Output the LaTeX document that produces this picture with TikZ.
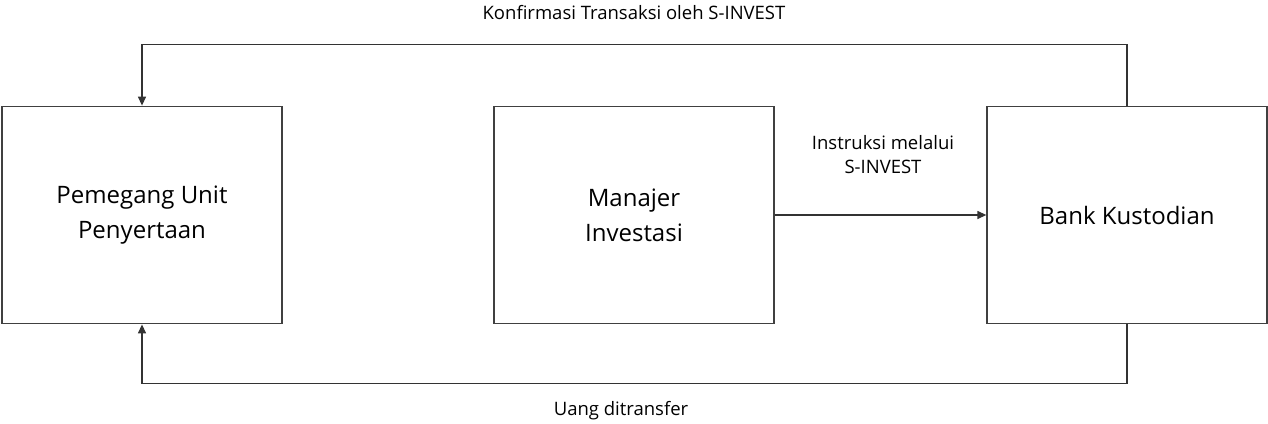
\documentclass[tikz,border=0pt]{standalone}
\usepackage{fontspec}
\setmainfont{Open Sans}
\usetikzlibrary{arrows.meta}

\tikzset{
    blok/.style={draw=black!75, line width=1.3pt, minimum width=280pt, minimum height=217.5pt,
        align=center, font=\fontsize{24}{35}\selectfont, inner sep=0pt},
    panah/.style={draw=black!80, line width=1.3pt, -{Triangle[length=9pt,width=8pt]}},
    ket/.style={align=center, font=\fontsize{18.5}{24}\selectfont, inner sep=0pt},
}

\begin{document}
\begin{tikzpicture}[x=1pt,y=-1pt]
    \useasboundingbox (0,0) rectangle (1268,423);
    % kotak utama
    \node[blok] (pemegang) at (142,215) {Pemegang Unit\\Penyertaan};
    \node[blok] (manajer) at (634,215) {Manajer\\Investasi};
    \node[blok] (bank) at (1127,215) {Bank Kustodian};
    % alur
    \draw[panah] (manajer.east) -- (bank.west);
    \draw[panah] (bank.north) -- ++(0,-61) -| (pemegang.north);
    \draw[panah] (bank.south) -- ++(0,59) -| (pemegang.south);
    % keterangan
    \node[ket] (konfirmasi) at (634,13) {Konfirmasi Transaksi oleh S-INVEST};
    \node[ket] (instruksi) at (883,155) {Instruksi melalui\\S-INVEST};
    \node[ket] (uang) at (621,411) {Uang ditransfer};
\end{tikzpicture}
\end{document}
